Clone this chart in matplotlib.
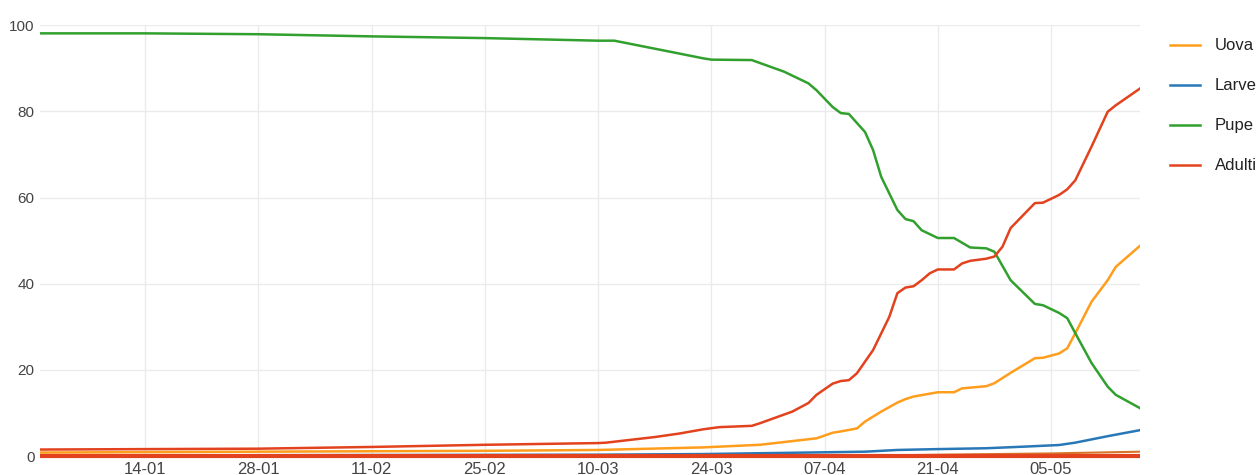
import pandas as pd
import matplotlib
matplotlib.use('Agg')
import matplotlib.pyplot as plt
import matplotlib.dates as mdates

plt.rcParams['font.family'] = ['Liberation Sans', 'DejaVu Sans']

# data (percent per stage), dates dd-mm of 2020
uova_dates = ['01-01', '14-01', '28-01', '11-02', '25-02', '10-03', '23-03', '30-03',
              '06-04', '08-04', '09-04', '11-04', '12-04', '14-04', '16-04', '17-04',
              '18-04', '21-04', '23-04', '24-04', '27-04', '28-04', '30-04', '03-05',
              '04-05', '06-05', '07-05', '08-05', '10-05', '12-05', '13-05', '16-05']
uova = [0.8, 0.9, 1.0, 1.1, 1.2, 1.4, 2.0, 2.6,
        4.1, 5.4, 5.7, 6.4, 8.0, 10.3, 12.4, 13.2,
        13.8, 14.8, 14.8, 15.7, 16.2, 16.9, 19.3, 22.7,
        22.8, 23.8, 25.0, 28.5, 35.8, 40.8, 43.9, 48.8]

larve_dates = ['01-01', '10-03', '23-03', '03-04', '12-04', '16-04', '21-04', '27-04',
               '02-05', '06-05', '08-05', '12-05', '16-05']
larve = [0.1, 0.3, 0.45, 0.75, 1.0, 1.4, 1.6, 1.8,
         2.2, 2.55, 3.1, 4.6, 6.0]

pupe_dates = ['01-01', '14-01', '28-01', '11-02', '25-02', '10-03', '12-03', '19-03',
              '23-03', '24-03', '29-03', '02-04', '05-04', '06-04', '08-04', '09-04',
              '10-04', '12-04', '13-04', '14-04', '16-04', '17-04', '18-04', '19-04',
              '21-04', '23-04', '25-04', '27-04', '28-04', '30-04', '03-05', '04-05',
              '06-05', '07-05', '08-05', '10-05', '12-05', '13-05', '16-05']
pupe = [98.1, 98.1, 97.9, 97.4, 97.0, 96.4, 96.4, 93.8,
        92.3, 92.0, 91.9, 89.2, 86.5, 84.9, 81.0, 79.6,
        79.4, 75.2, 71.0, 64.8, 57.1, 55.0, 54.5, 52.4,
        50.6, 50.6, 48.4, 48.2, 47.4, 40.8, 35.3, 35.0,
        33.2, 32.0, 28.5, 21.6, 16.1, 14.2, 11.1]

adulti_dates = ['01-01', '14-01', '28-01', '11-02', '25-02', '10-03', '11-03', '17-03',
                '20-03', '23-03', '25-03', '29-03', '30-03', '03-04', '05-04', '06-04',
                '08-04', '09-04', '10-04', '11-04', '12-04', '13-04', '15-04', '16-04',
                '17-04', '18-04', '19-04', '20-04', '21-04', '23-04', '24-04', '25-04',
                '27-04', '28-04', '29-04', '30-04', '03-05', '04-05', '06-05', '07-05',
                '08-05', '10-05', '12-05', '13-05', '16-05']
adulti = [1.5, 1.6, 1.7, 2.1, 2.6, 3.0, 3.1, 4.4,
          5.2, 6.2, 6.7, 7.0, 7.6, 10.3, 12.3, 14.2,
          16.8, 17.4, 17.6, 19.2, 21.9, 24.6, 32.3, 37.8,
          39.1, 39.4, 40.8, 42.4, 43.3, 43.3, 44.7, 45.3,
          45.8, 46.3, 48.6, 52.9, 58.7, 58.8, 60.6, 61.9,
          64.0, 71.8, 79.9, 81.4, 85.3]

# unlabelled series lying on the baseline
extra_dates = ['01-01', '10-04', '21-04', '05-05', '16-05']
extra_low = [0.0, 0.0, 0.3, 0.6, 1.0]
extra_zero = [0.0, 0.0, 0.0, 0.0, 0.0]

def to_dt(days):
    return pd.to_datetime([d + '-2020' for d in days], format='%d-%m-%Y')

fig = plt.figure(figsize=(12.59, 4.75), dpi=100)
ax = fig.add_axes([0.0318, 0.04, 0.8737, 0.907])

lw = 1.8
ax.plot(to_dt(uova_dates), uova, color='#ff9d1c', lw=lw, label='Uova')
ax.plot(to_dt(larve_dates), larve, color='#2878b8', lw=lw, label='Larve')
ax.plot(to_dt(pupe_dates), pupe, color='#31a02e', lw=lw, label='Pupe')
ax.plot(to_dt(adulti_dates), adulti, color='#e2421d', lw=lw, label='Adulti')
ax.plot(to_dt(extra_dates), extra_low, color='#d8752a', lw=1.5)
ax.plot(to_dt(extra_dates), extra_zero, color='#e2421d', lw=3,
        solid_capstyle='butt', clip_on=False)

ax.set_xlim(to_dt(['01-01'])[0], to_dt(['16-05'])[0])
ax.set_ylim(0, 100)
ax.set_yticks([0, 20, 40, 60, 80, 100])
ticks = pd.date_range('2020-01-14', '2020-05-16', freq='14D')
ax.set_xticks(ticks)
ax.xaxis.set_major_formatter(mdates.DateFormatter('%d-%m'))

ax.grid(True, color='#ebebeb', lw=1)
ax.set_axisbelow(True)
for s in ax.spines.values():
    s.set_visible(False)
ax.tick_params(length=0, colors='#444444')
ax.tick_params(axis='y', pad=4, labelsize=11)
ax.tick_params(axis='x', pad=4, labelsize=12)

handles, labels = ax.get_legend_handles_labels()
fig.legend(handles, labels, loc='upper left', bbox_to_anchor=(0.9293, 0.919),
           frameon=False, fontsize=12, handlelength=1.8, handletextpad=0.9,
           labelspacing=1.5, borderpad=0, borderaxespad=0, labelcolor='#222222')

fig.savefig('out.png', dpi=100)
